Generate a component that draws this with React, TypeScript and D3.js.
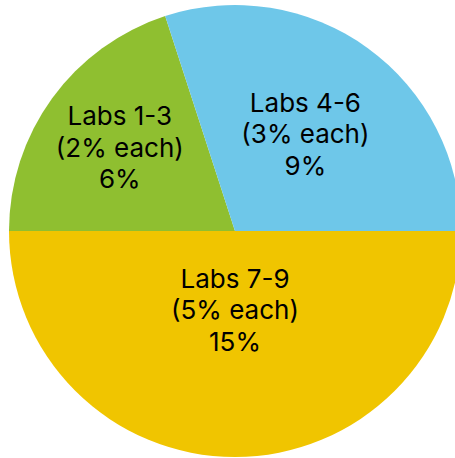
import React from "react";
import * as d3 from "d3";

const labels = ["Labs 7-9", "Labs 1-3", "Labs 4-6"];
const eachPct = [5, 2, 3];
const values = [15, 6, 9];
const colors = ["#f0c500", "#8fbf30", "#6ec7e9"];

// label placement (fraction of radius along slice bisector)
const labelRadiusFrac = [0.35, 0.63, 0.53];

export default function App() {
  const width = 455;
  const height = 458;
  const cx = 235;
  const cy = 231;
  const r = 226;

  const data = labels.map((l, i) => ({ label: l, each: eachPct[i], value: values[i], color: colors[i], lr: labelRadiusFrac[i] }));
  const pie = d3
    .pie<any>()
    .sort(null)
    .value((d) => d.value)
    .startAngle(Math.PI / 2)
    .endAngle(Math.PI / 2 + 2 * Math.PI);
  const arcs = pie(data);
  const arc = d3.arc<any>().innerRadius(0).outerRadius(r);

  const fontSize = 26;
  const lineH = 31.5;

  return (
    <svg width={width} height={height} style={{ position: "absolute", left: 0, top: 0 }}>
      <g transform={`translate(${cx},${cy})`}>
        {arcs.map((a, i) => (
          <path key={i} d={arc(a) as string} fill={a.data.color} />
        ))}
        {arcs.map((a, i) => {
          const mid = (a.startAngle + a.endAngle) / 2;
          const rr = a.data.lr * r;
          const x = Math.sin(mid) * rr;
          const y = -Math.cos(mid) * rr;
          const lines = [a.data.label, `(${a.data.each}% each)`, `${a.data.value}%`];
          return (
            <text
              key={"t" + i}
              x={x}
              y={y}
              textAnchor="middle"
              fontFamily="Inter, sans-serif"
              fontSize={fontSize}
              fill="#000"
            >
              {lines.map((ln, j) => (
                <tspan key={j} x={x} y={y + (j - 1) * lineH + fontSize * 0.36}>
                  {ln}
                </tspan>
              ))}
            </text>
          );
        })}
      </g>
    </svg>
  );
}
